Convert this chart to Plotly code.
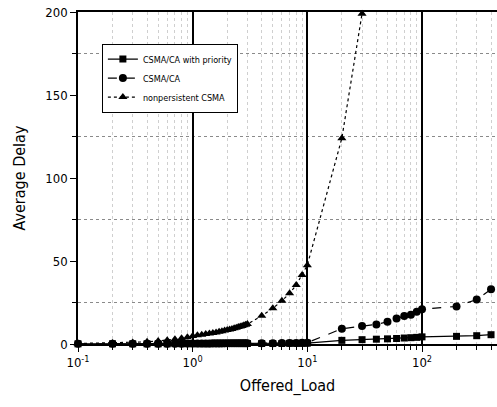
import plotly.graph_objects as go

# Offered load (x values)
x_load = [0.1, 0.2, 0.3, 0.4, 0.5, 0.6, 0.7, 0.8, 0.9,
          1.0, 1.1, 1.2, 1.3, 1.4, 1.5, 1.6, 1.7, 1.8, 1.9, 2.0,
          2.1, 2.2, 2.3, 2.4, 2.5, 2.6, 2.7, 2.8, 2.9, 3.0,
          4, 5, 6, 7, 8, 9, 10,
          20, 30, 40, 50, 60, 70, 80, 90, 100,
          200, 300, 400]

delay_priority = [0.1, 0.1, 0.1, 0.1, 0.1, 0.1, 0.2, 0.2, 0.2,
                  0.2, 0.2, 0.2, 0.2, 0.2, 0.2, 0.2, 0.2, 0.2, 0.3, 0.3,
                  0.3, 0.3, 0.3, 0.3, 0.3, 0.3, 0.3, 0.3, 0.3, 0.3,
                  0.3, 0.3, 0.3, 0.4, 0.4, 0.4, 0.5,
                  2.2, 2.6, 2.9, 3.1, 3.3, 3.6, 3.8, 4.0, 4.3,
                  4.6, 5.0, 5.6]

delay_csmaca = [0.1, 0.1, 0.1, 0.2, 0.2, 0.2, 0.2, 0.2, 0.3,
                0.3, 0.3, 0.3, 0.3, 0.3, 0.4, 0.4, 0.4, 0.4, 0.4, 0.4,
                0.4, 0.4, 0.5, 0.5, 0.5, 0.5, 0.5, 0.5, 0.5, 0.5,
                0.5, 0.5, 0.6, 0.6, 0.6, 0.7, 0.8,
                9.2, 10.8, 11.8, 13.4, 15.4, 16.9, 17.6, 19.5, 21.0,
                22.6, 26.8, 33.0]

x_load_np = [0.1, 0.2, 0.3, 0.4, 0.5, 0.6, 0.7, 0.8, 0.9,
             1.0, 1.1, 1.2, 1.3, 1.4, 1.5, 1.6, 1.7, 1.8, 1.9, 2.0,
             2.1, 2.2, 2.3, 2.4, 2.5, 2.6, 2.7, 2.8, 2.9, 3.0,
             4, 5, 6, 7, 8, 9, 10,
             20, 30]

delay_nonpersistent = [0.3, 0.6, 0.9, 1.3, 1.8, 2.3, 2.9, 3.5, 4.1,
                       4.8, 5.2, 5.6, 6.0, 6.3, 6.7, 7.0, 7.4, 7.7, 8.1, 8.4,
                       8.8, 9.1, 9.5, 9.8, 10.2, 10.5, 10.9, 11.3, 11.6, 12.0,
                       17.0, 21.5, 26.0, 30.5, 35.5, 41.5, 47.5,
                       124.0, 199.0]

x_tickvals = [0.1, 1, 10, 100]
x_ticktext = ["10<sup>-1</sup>", "10<sup>0</sup>", "10<sup>1</sup>", "10<sup>2</sup>"]
x_minor = [m * d for d in (0.1, 1, 10, 100) for m in range(2, 10)]

FONT = "DejaVu Sans Condensed, Liberation Sans Narrow, Arial Narrow, Liberation Sans, Arial"

fig = go.Figure()
fig.add_trace(go.Scatter(
    x=x_load, y=delay_priority, name="CSMA/CA with priority",
    mode="lines+markers", cliponaxis=False,
    line=dict(color="black", width=1.3, dash="solid"),
    marker=dict(symbol="square", size=7, color="black")))
fig.add_trace(go.Scatter(
    x=x_load, y=delay_csmaca, name="CSMA/CA",
    mode="lines+markers", cliponaxis=False,
    line=dict(color="black", width=1.2, dash="dash"),
    marker=dict(symbol="circle", size=8, color="black")))
fig.add_trace(go.Scatter(
    x=x_load_np, y=delay_nonpersistent, name="nonpersistent CSMA",
    mode="lines+markers", cliponaxis=False,
    line=dict(color="black", width=1.2, dash="dot"),
    marker=dict(symbol="triangle-up", size=8, color="black")))

fig.update_layout(
    width=497, height=407,
    margin=dict(l=78, r=0, t=12, b=63),
    paper_bgcolor="white", plot_bgcolor="white",
    font=dict(family=FONT, color="black", size=13),
    showlegend=True,
    legend=dict(
        x=0.057, y=0.905, xanchor="left", yanchor="top",
        bgcolor="white", bordercolor="black", borderwidth=1,
        font=dict(family=FONT, size=9, color="black"),
        itemwidth=30, tracegroupgap=0),
    xaxis=dict(
        type="log", range=[-1, 2.654],
        tickvals=x_tickvals, ticktext=x_ticktext,
        ticks="outside", ticklen=6, tickwidth=1, tickcolor="black",
        showline=True, linecolor="black", linewidth=1.5, mirror=True,
        showgrid=True, gridcolor="black", gridwidth=1.5,
        zeroline=False,
        tickfont=dict(family=FONT, size=13),
        minor=dict(tickvals=x_minor, ticks="outside", ticklen=4,
                   tickcolor="black", showgrid=True, gridcolor="#cfcfcf",
                   griddash="dot", gridwidth=1),
        title=dict(text="Offered_Load", font=dict(family=FONT, size=16), standoff=10),
    ),
    yaxis=dict(
        range=[0, 200], tickvals=[0, 50, 100, 150, 200],
        ticks="outside", ticklen=6, tickwidth=1, tickcolor="black",
        showline=True, linecolor="black", linewidth=1.5, mirror=False,
        showgrid=False, zeroline=False,
        tickfont=dict(family=FONT, size=13),
        minor=dict(tickvals=[25, 75, 125, 175], ticks="outside", ticklen=4,
                   tickcolor="black", showgrid=True, gridcolor="#8a8a8a",
                   griddash="dot", gridwidth=1),
        title=dict(text="Average Delay", font=dict(family=FONT, size=16), standoff=16),
    ),
)

fig.write_html("out.html")
